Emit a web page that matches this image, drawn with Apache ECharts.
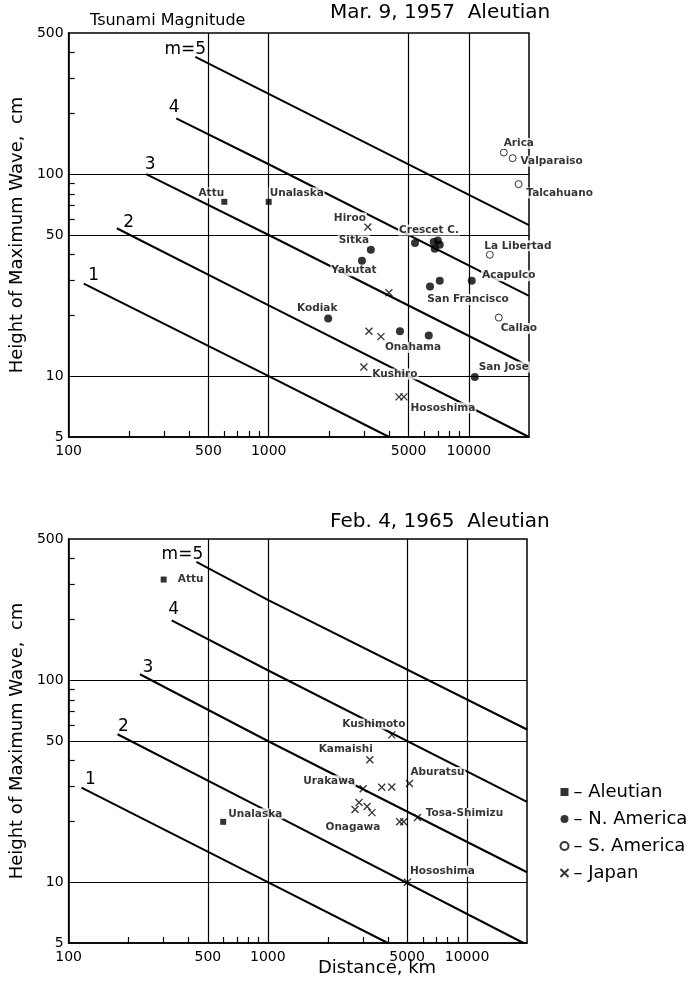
<!DOCTYPE html>
<html>
<head>
<meta charset="utf-8">
<script src="https://cdn.jsdelivr.net/npm/echarts@6/dist/echarts.min.js"></script>
<style>
html,body{margin:0;padding:0;background:#fff;}
#c{width:693px;height:986px;}
</style>
</head>
<body>
<div id="c"></div>
<script>
// ---------- axis ticks ----------
const xTickLabels = [100, 500, 1000, 5000, 10000];
const xGridValues = [500, 1000, 5000, 10000];
const xMinorTicks = [200, 300, 400, 600, 700, 800, 900, 2000, 3000, 4000, 6000, 7000, 8000, 9000];
const yTickLabels = [5, 10, 50, 100, 500];
const yGridValues = [10, 50, 100];
const yMinorTicks = [20, 30, 40, 60, 70, 80, 90, 200, 300, 400];

// ---------- tsunami magnitude lines ----------
const magnitudeLabels = ['1', '2', '3', '4', 'm=5'];
const m1_1957 = [[119, 28.7], [1000, 10], [4000, 5]];
const m2_1957 = [[174, 54], [1000, 22.4], [20000, 5]];
const m3_1957 = [[244, 100], [1000, 50], [20000, 11.2]];
const m4_1957 = [[345, 189], [1000, 112], [20000, 25]];
const m5_1957 = [[430, 381], [1000, 250], [20000, 56]];
const m1_1965 = [[116, 29.4], [1000, 10], [4000, 5]];
const m2_1965 = [[176, 54], [1000, 22.4], [19200, 5]];
const m3_1965 = [[228, 107], [1000, 50], [20000, 11.2]];
const m4_1965 = [[329, 198], [1000, 112], [20000, 25]];
const m5_1965 = [[438, 385], [1000, 250], [20000, 57]];

// ---------- observations: [label, distance km, height cm] ----------
const aleutian1957 = [['Attu', 600, 73], ['Unalaska', 1000, 73]];
const nAmerica1957 = [
  ['Sitka', 3240, 42.3], ['Yakutat', 2925, 37.3], ['Kodiak', 1983, 19.3],
  ['Crescet C.', 5385, 45.7], ['', 6680, 46.2], ['', 7160, 44.7], ['', 6760, 42.8], ['', 7000, 47],
  ['San Francisco', 6400, 27.8], ['', 7160, 29.7], ['Acapulco', 10350, 29.7],
  ['', 4530, 16.7], ['', 6310, 15.9], ['San Jose', 10720, 9.9]
];
const sAmerica1957 = [
  ['Arica', 14970, 128], ['Valparaiso', 16570, 120], ['Talcahuano', 17740, 89.3],
  ['La Libertad', 12740, 39.9], ['Callao', 14130, 19.5]
];
const japan1957 = [
  ['Hiroo', 3130, 54.8], ['', 3990, 25.9], ['', 3170, 16.7], ['Onahama', 3640, 15.7],
  ['Kushiro', 2990, 11.1], ['', 4480, 7.9], ['Hososhima', 4740, 7.9]
];
const aleutian1965 = [['Attu', 300, 315], ['Unalaska', 597, 19.9]];
const japan1965 = [
  ['Kushimoto', 4190, 53.6], ['Kamaishi', 3250, 40.4], ['Urakawa', 3010, 29.0],
  ['', 3730, 29.5], ['', 4190, 29.6], ['Aburatsu', 5140, 30.8],
  ['', 2740, 22.9], ['', 2870, 24.8], ['', 3150, 23.7], ['Onagawa', 3330, 22.1],
  ['', 4590, 19.9], ['', 4810, 19.9], ['Tosa-Shimizu', 5640, 20.9], ['Hososhima', 5020, 10]
];

// ---------- label placement (pixels, relative to the point) ----------
const offsets1957 = {
  'Attu': [-13, -9], 'Unalaska': [28, -9], 'Hiroo': [-18, -9], 'Crescet C.': [14, -13],
  'Sitka': [-17, -9], 'Yakutat': [-8, 10], 'Kodiak': [-11, -10], 'La Libertad': [28, -9],
  'Acapulco': [37, -5], 'San Francisco': [38, 13], 'Callao': [20, 11], 'Onahama': [32, 11],
  'San Jose': [29, -10], 'Kushiro': [31, 7], 'Hososhima': [39, 11], 'Arica': [15, -9],
  'Valparaiso': [39, 3], 'Talcahuano': [41, 9]
};
const offsets1965 = {
  'Attu': [27, 0], 'Unalaska': [32, -8], 'Kushimoto': [-18, -11], 'Kamaishi': [-24, -10],
  'Urakawa': [-34, -8], 'Onagawa': [-19, 15], 'Aburatsu': [28, -11], 'Tosa-Shimizu': [47, -4],
  'Hososhima': [35, -11]
};
const magOffsets1957 = [[10, -8], [12, -6], [4, -10], [-2, -11], [-10, -7]];
const magOffsets1965 = [[9, -8], [6, -8], [8, -7], [2, -11], [-14, -7]];

const FONT = 'DejaVu Sans';
const BLACK = '#000';
const grids = [
  { left: 66, top: 33, width: 463, height: 404, show: true, borderColor: BLACK, borderWidth: 1.5 },
  { left: 63, top: 539, width: 464, height: 404, show: true, borderColor: BLACK, borderWidth: 1.5 }
];

const xAxes = [], yAxes = [];
grids.forEach((g, i) => {
  xAxes.push({
    type: 'log', logBase: 10, gridIndex: i, min: 100, max: 20000, position: 'bottom',
    axisLine: { show: true, lineStyle: { color: BLACK, width: 1.5 } },
    axisTick: { show: false, customValues: xGridValues },
    axisLabel: { customValues: xTickLabels, formatter: v => String(v), color: BLACK, fontSize: 14, fontFamily: FONT, margin: 7 },
    splitLine: { show: true, lineStyle: { color: BLACK, width: 1.2 } }
  });
  xAxes.push({
    type: 'log', logBase: 10, gridIndex: i, min: 100, max: 20000, position: 'bottom',
    axisLine: { show: false },
    axisTick: { show: true, inside: true, length: 6, customValues: xMinorTicks, lineStyle: { color: BLACK, width: 1.2 } },
    axisLabel: { show: false },
    splitLine: { show: false }
  });
  yAxes.push({
    type: 'log', logBase: 10, gridIndex: i, min: 5, max: 500, position: 'left',
    name: 'Height of Maximum Wave,  cm', nameLocation: 'middle', nameGap: 36,
    nameTextStyle: { color: BLACK, fontSize: 18, fontFamily: FONT },
    axisLine: { show: true, lineStyle: { color: BLACK, width: 1.5 } },
    axisTick: { show: false, customValues: yGridValues },
    axisLabel: { customValues: yTickLabels, formatter: v => String(v), color: BLACK, fontSize: 14, fontFamily: FONT, margin: 5 },
    splitLine: { show: true, lineStyle: { color: BLACK, width: 1.2 } }
  });
  yAxes.push({
    type: 'log', logBase: 10, gridIndex: i, min: 5, max: 500, position: 'left',
    axisLine: { show: false },
    axisTick: { show: true, inside: true, length: 6, customValues: yMinorTicks, lineStyle: { color: BLACK, width: 1.2 } },
    axisLabel: { show: false },
    splitLine: { show: false }
  });
});

const pointLabel = { color: BLACK, fontSize: 10.5, fontWeight: 'bold', fontFamily: FONT, backgroundColor: '#fff', padding: [0, 1], position: 'inside' };
const styles = {
  'Aleutian': { symbol: 'rect', symbolSize: 6, itemStyle: { color: BLACK } },
  'N. America': { symbol: 'circle', symbolSize: 8, itemStyle: { color: BLACK } },
  'S. America': { symbol: 'circle', symbolSize: 7, itemStyle: { color: '#fff', borderColor: BLACK, borderWidth: 1 } },
  'Japan': { symbol: 'path://M0,0L10,10M10,0L0,10', symbolSize: 7, itemStyle: { color: 'none', borderColor: BLACK, borderWidth: 1.3 } }
};

function pointSeries(name, data, g, offsets) {
  return Object.assign({
    type: 'scatter', name, xAxisIndex: 2 * g, yAxisIndex: 2 * g, z: 5, animation: false, silent: true,
    data: data.map(([lab, x, y]) => ({
      value: [x, y], name: lab,
      label: lab ? Object.assign({ show: true, formatter: lab, offset: offsets[lab] }, pointLabel) : { show: false }
    }))
  }, styles[name]);
}

function magSeries(pts, idx, g, offs) {
  return {
    type: 'line', xAxisIndex: 2 * g, yAxisIndex: 2 * g, z: 3, animation: false, silent: true,
    symbol: 'circle', symbolSize: 1, showSymbol: true,
    itemStyle: { color: 'rgba(0,0,0,0)' },
    lineStyle: { color: BLACK, width: 2 },
    data: pts.map((p, k) => ({
      value: p,
      label: k === 0 ? { show: true, formatter: magnitudeLabels[idx], position: 'inside', offset: offs[idx], color: BLACK, fontSize: 17, fontFamily: FONT } : { show: false }
    }))
  };
}

const series = [];
[m1_1957, m2_1957, m3_1957, m4_1957, m5_1957].forEach((p, i) => series.push(magSeries(p, i, 0, magOffsets1957)));
[m1_1965, m2_1965, m3_1965, m4_1965, m5_1965].forEach((p, i) => series.push(magSeries(p, i, 1, magOffsets1965)));
series.push(pointSeries('Aleutian', aleutian1957, 0, offsets1957));
series.push(pointSeries('N. America', nAmerica1957, 0, offsets1957));
series.push(pointSeries('S. America', sAmerica1957, 0, offsets1957));
series.push(pointSeries('Japan', japan1957, 0, offsets1957));
series.push(pointSeries('Aleutian', aleutian1965, 1, offsets1965));
series.push(pointSeries('Japan', japan1965, 1, offsets1965));

const chart = echarts.init(document.getElementById('c'), null, { renderer: 'canvas' });
chart.setOption({
  backgroundColor: '#fff',
  animation: false,
  grid: grids,
  xAxis: xAxes,
  yAxis: yAxes,
  legend: {
    data: ['Aleutian', 'N. America', 'S. America', 'Japan'],
    orient: 'vertical', left: 553, top: 778, itemWidth: 8, itemHeight: 8, itemGap: 9,
    selectedMode: false,
    formatter: n => '\u2013 ' + n,
    textStyle: { color: BLACK, fontSize: 18, fontFamily: FONT }
  },
  graphic: [
    { type: 'text', left: 90, top: 13, style: { text: 'Tsunami Magnitude', fill: BLACK, font: '16px "DejaVu Sans"' } },
    { type: 'text', left: 330, top: 3, style: { text: 'Mar. 9, 1957  Aleutian', fill: BLACK, font: '20px "DejaVu Sans"' } },
    { type: 'text', left: 330, top: 512, style: { text: 'Feb. 4, 1965  Aleutian', fill: BLACK, font: '20px "DejaVu Sans"' } },
    { type: 'text', left: 318, top: 959, style: { text: 'Distance, km', fill: BLACK, font: '18px "DejaVu Sans"' } }
  ],
  series
});
</script>
</body>
</html>
